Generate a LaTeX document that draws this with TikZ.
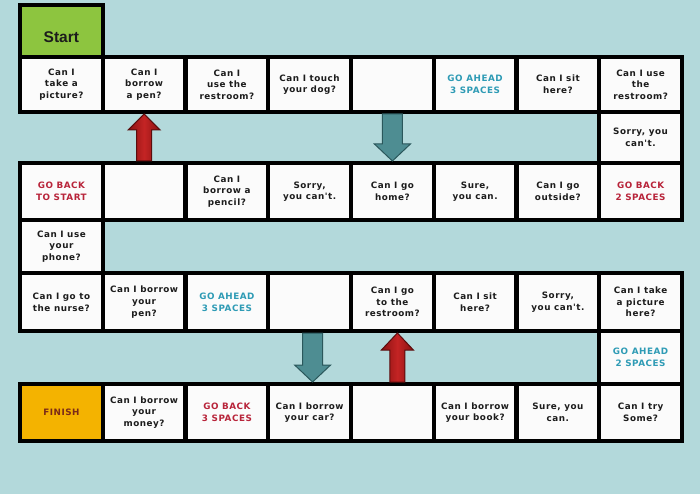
\documentclass[tikz,border=0pt]{standalone}
\usepackage{fontspec}
\usetikzlibrary{calc}
\newfontfamily\cellfont{DejaVu Sans}[LetterSpace=6]
\newfontfamily\startfont{Liberation Sans}
\definecolor{bgteal}{HTML}{B3D9DB}
\definecolor{cellwhite}{HTML}{FBFBFB}
\definecolor{startgreen}{HTML}{8DC53F}
\definecolor{finishyellow}{HTML}{F4B300}
\definecolor{textdark}{HTML}{1C1C1C}
\definecolor{gored}{HTML}{B8243A}
\definecolor{goblue}{HTML}{2E9BB5}
\definecolor{finishtext}{HTML}{7A2A18}
\definecolor{arrowred}{HTML}{C42424}
\definecolor{arrowreddark}{HTML}{8A1212}
\definecolor{arrowredline}{HTML}{5A0D0D}
\definecolor{arrowteal}{HTML}{4E8D92}
\definecolor{arrowtealline}{HTML}{2A575B}
\newcommand\blockarrow[6]{% from, to, half shaft, half head, head length, style
  \path[#6] let \p1=(#1), \p2=(#2), \n1={sign(\y2-\y1)} in
    (\x1-#3,\y1) -- (\x1-#3,\y2-\n1*#5) -- (\x1-#4,\y2-\n1*#5) -- (\x1,\y2)
    -- (\x1+#4,\y2-\n1*#5) -- (\x1+#3,\y2-\n1*#5) -- (\x1+#3,\y1) -- cycle;}
\tikzset{
  cell/.style={draw=black, line width=4, fill=cellwhite, minimum width=82.75,
    minimum height=#1, inner sep=0, align=center, text=textdark,
    font=\cellfont\bfseries\fontsize{8.8}{11.6}\selectfont},
  redtxt/.style={text=gored},
  bluetxt/.style={text=goblue},
  redarrow/.style={draw=arrowredline, line width=1, left color=arrowreddark,
    right color=arrowreddark, middle color=arrowred},
  tealarrow/.style={draw=arrowtealline, line width=1, fill=arrowteal},
}
\begin{document}
\begin{tikzpicture}[x=1pt, y=-1pt]
\fill[bgteal] (0,0) rectangle (700,494);
\useasboundingbox (0,0) rectangle (700,494);
% row 0
\node[cell=52, fill=startgreen] (start) at (61.4,31) {};
\node[font=\startfont\bfseries\fontsize{15.5}{16}\selectfont, text=textdark] (startlbl) at (61.4,37) {Start};
% row 1
\node[cell=55] (r1c0) at (61.4,84.5) {Can I\\take a\\picture?};
\node[cell=55] (r1c1) at (144.1,84.5) {Can I\\borrow\\a pen?};
\node[cell=55] (r1c2) at (226.9,84.5) {Can I\\use the\\restroom?};
\node[cell=55] (r1c3) at (309.6,84.5) {Can I touch\\your dog?};
\node[cell=55] (r1c4) at (392.4,84.5) {};
\node[cell=55, bluetxt] (r1c5) at (475.1,84.5) {GO AHEAD\\3 SPACES};
\node[cell=55] (r1c6) at (557.9,84.5) {Can I sit\\here?};
\node[cell=55] (r1c7) at (640.6,84.5) {Can I use\\the\\restroom?};
% row 2
\node[cell=51] (r2c7) at (640.6,137.5) {Sorry, you\\can't.};
% row 3
\node[cell=57, redtxt] (r3c0) at (61.4,191.5) {GO BACK\\TO START};
\node[cell=57] (r3c1) at (144.1,191.5) {};
\node[cell=57] (r3c2) at (226.9,191.5) {Can I\\borrow a\\pencil?};
\node[cell=57] (r3c3) at (309.6,191.5) {Sorry,\\you can't.};
\node[cell=57] (r3c4) at (392.4,191.5) {Can I go\\home?};
\node[cell=57] (r3c5) at (475.1,191.5) {Sure,\\you can.};
\node[cell=57] (r3c6) at (557.9,191.5) {Can I go\\outside?};
\node[cell=57, redtxt] (r3c7) at (640.6,191.5) {GO BACK\\2 SPACES};
% row 4
\node[cell=53] (r4c0) at (61.4,246.5) {Can I use\\your\\phone?};
% row 5
\node[cell=58] (r5c0) at (61.4,302) {Can I go to\\the nurse?};
\node[cell=58] (r5c1) at (144.1,302) {Can I borrow\\your\\pen?};
\node[cell=58, bluetxt] (r5c2) at (226.9,302) {GO AHEAD\\3 SPACES};
\node[cell=58] (r5c3) at (309.6,302) {};
\node[cell=58] (r5c4) at (392.4,302) {Can I go\\to the\\restroom?};
\node[cell=58] (r5c5) at (475.1,302) {Can I sit\\here?};
\node[cell=58] (r5c6) at (557.9,302) {Sorry,\\you can't.};
\node[cell=58] (r5c7) at (640.6,302) {Can I take\\a picture\\here?};
% row 6
\node[cell=53, bluetxt] (r6c7) at (640.6,357.5) {GO AHEAD\\2 SPACES};
% row 7
\node[cell=57, fill=finishyellow, text=finishtext] (finish) at (61.4,412.5) {FINISH};
\node[cell=57] (r7c1) at (144.1,412.5) {Can I borrow\\your\\money?};
\node[cell=57, redtxt] (r7c2) at (226.9,412.5) {GO BACK\\3 SPACES};
\node[cell=57] (r7c3) at (309.6,412.5) {Can I borrow\\your car?};
\node[cell=57] (r7c4) at (392.4,412.5) {};
\node[cell=57] (r7c5) at (475.1,412.5) {Can I borrow\\your book?};
\node[cell=57] (r7c6) at (557.9,412.5) {Sure, you\\can.};
\node[cell=57] (r7c7) at (640.6,412.5) {Can I try\\Some?};
% arrows
\coordinate (ua1) at (r3c1.north);
\coordinate (ua2) at (r1c1.south);
\blockarrow{ua1}{ua2}{7.5}{16}{16}{redarrow}
\coordinate (da1) at (r1c4.south);
\coordinate (da2) at (r3c4.north);
\blockarrow{da1}{da2}{10}{18}{17}{tealarrow}
\coordinate (db1) at ([xshift=3]r5c3.south);
\coordinate (db2) at ([xshift=3]r7c3.north);
\blockarrow{db1}{db2}{10}{18}{17}{tealarrow}
\coordinate (ub1) at ([xshift=5]r7c4.north);
\coordinate (ub2) at ([xshift=5]r5c4.south);
\blockarrow{ub1}{ub2}{7.5}{16}{17}{redarrow}
\end{tikzpicture}
\end{document}
